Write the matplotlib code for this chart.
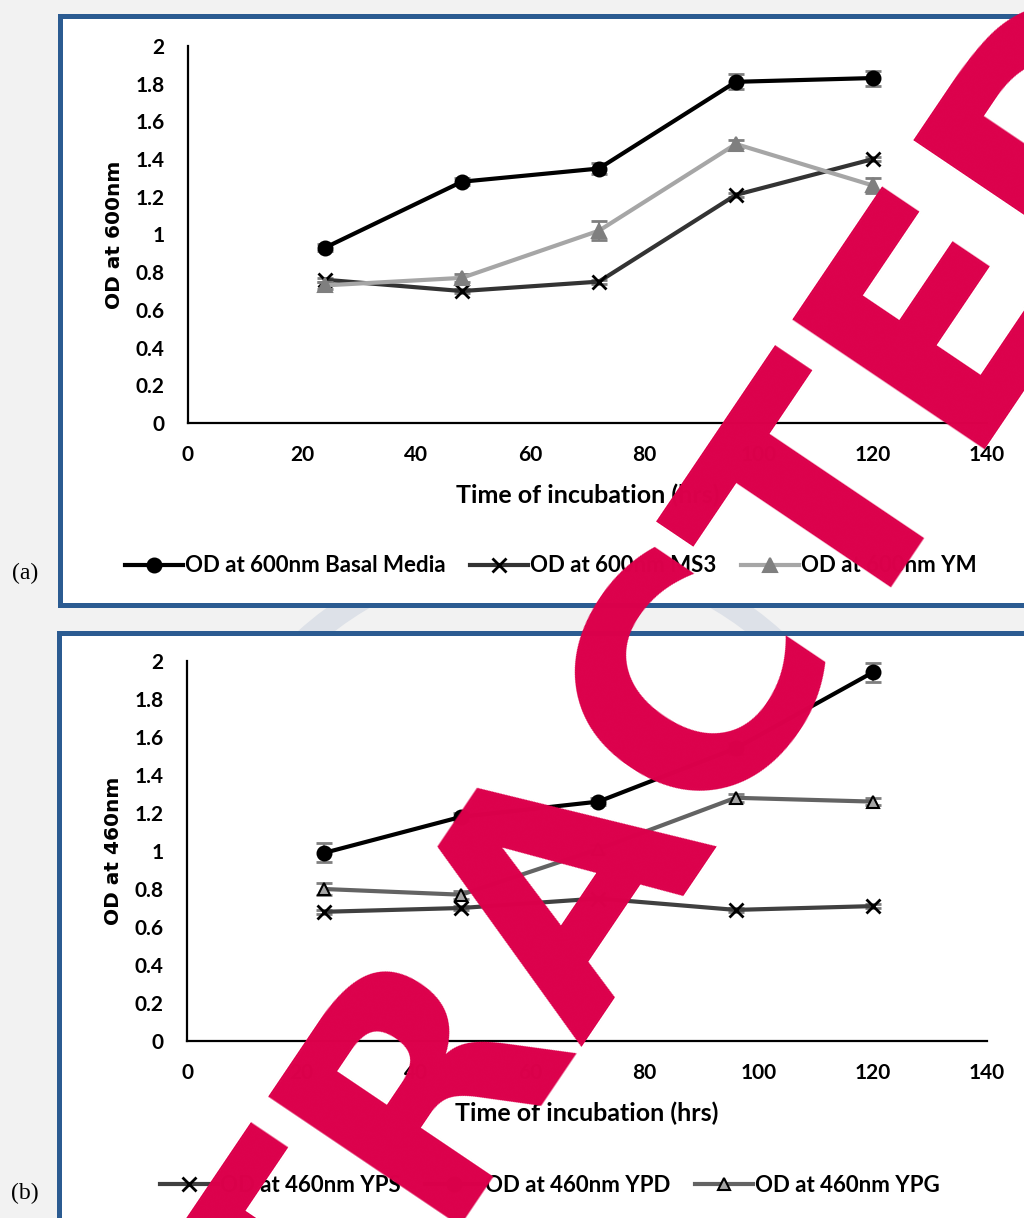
import matplotlib
matplotlib.use("Agg")
import matplotlib.pyplot as plt
from matplotlib.patches import Rectangle, Circle

# data
hours = [24, 48, 72, 96, 120]

basal_600 = [0.93, 1.28, 1.35, 1.81, 1.83]
basal_600_err = [0.02, 0.02, 0.03, 0.04, 0.04]
ms3_600 = [0.76, 0.70, 0.75, 1.21, 1.40]
ms3_600_err = [0.01, 0.01, 0.01, 0.01, 0.01]
ym_600 = [0.73, 0.77, 1.02, 1.48, 1.26]
ym_600_err = [0.02, 0.02, 0.05, 0.02, 0.04]

yps_460 = [0.68, 0.70, 0.75, 0.69, 0.71]
yps_460_err = [0.01, 0.01, 0.01, 0.01, 0.01]
ypd_460 = [0.99, 1.18, 1.26, 1.54, 1.94]
ypd_460_err = [0.05, 0.02, 0.02, 0.03, 0.05]
ypg_460 = [0.80, 0.77, 1.01, 1.28, 1.26]
ypg_460_err = [0.03, 0.02, 0.02, 0.02, 0.02]

xticks = [0, 20, 40, 60, 80, 100, 120, 140]
yticks = [0, 0.2, 0.4, 0.6, 0.8, 1, 1.2, 1.4, 1.6, 1.8, 2]
ytick_labels = ["0", "0.2", "0.4", "0.6", "0.8", "1", "1.2", "1.4", "1.6", "1.8", "2"]

W, H = 1024, 1218
BORDER = "#2b5b91"
TXT = ["Lato", "DejaVu Sans"]


def fx(px):
    return px / W


def fy(py):
    return 1 - py / H


fig = plt.figure(figsize=(W / 100, H / 100), dpi=100)
fig.patch.set_facecolor("#f2f2f2")

# background layer in pixel coordinates
bg = fig.add_axes([0, 0, 1, 1], zorder=0)
bg.set_xlim(0, W)
bg.set_ylim(H, 0)
bg.axis("off")
bg.add_patch(Circle((540, 900), 350, fill=False, lw=17, ec="#dde1e8"))
bg.add_patch(Rectangle((60, 15.5), 1000, 589, fc="white", ec=BORDER, lw=3.6))
bg.add_patch(Rectangle((58.5, 632.5), 1000, 620, fc="white", ec=BORDER, lw=3.6))
bg.text(25, 573, "(a)", ha="center", va="center", fontsize=17, family="Liberation Serif")
bg.text(25, 1193, "(b)", ha="center", va="center", fontsize=17, family="Liberation Serif")


def style_axes(ax, ylabel):
    ax.set_facecolor("none")
    ax.set_xlim(0, 140)
    ax.set_ylim(0, 2)
    ax.set_xticks(xticks)
    ax.set_yticks(yticks)
    ax.set_yticklabels(ytick_labels)
    for s in ["top", "right"]:
        ax.spines[s].set_visible(False)
    for s in ["left", "bottom"]:
        ax.spines[s].set_linewidth(1.6)
        ax.spines[s].set_color("black")
    ax.tick_params(length=0)
    ax.tick_params(axis="y", pad=17)
    ax.tick_params(axis="x", pad=16)
    for lab in ax.get_xticklabels() + ax.get_yticklabels():
        lab.set_fontfamily(TXT)
        lab.set_fontweight("bold")
        lab.set_fontsize(15)
    ax.set_xlabel("Time of incubation (hrs)", family=TXT, weight="bold", fontsize=18, labelpad=13)
    ax.set_ylabel(ylabel, family="DejaVu Sans", weight="bold", fontsize=14.5, labelpad=8)


def series(ax, y, err, label, lc, marker, mfc, mec, ms, mew=1.5):
    ax.errorbar(hours, y, yerr=err, fmt="none", ecolor="#7f7f7f", elinewidth=1.5,
                capsize=6, capthick=2)
    ax.plot(hours, y, color=lc, lw=3, marker=marker, ms=ms, mfc=mfc, mec=mec,
            mew=mew, label=label)


def add_legend(ax, cx, cy):
    ax.legend(loc="center", bbox_to_anchor=(fx(cx), fy(cy)), bbox_transform=fig.transFigure,
              ncol=3, frameon=False, handlelength=2.6, handletextpad=0.1, columnspacing=1.1,
              prop={"family": TXT, "weight": "bold", "size": 16})


ax1 = fig.add_axes([fx(188), fy(423), 799 / W, 377 / H], zorder=1)
series(ax1, basal_600, basal_600_err, "OD at 600nm Basal Media", "black", "o", "black", "black", 10)
series(ax1, ms3_600, ms3_600_err, "OD at 600nm MS3", "#333333", "x", "black", "black", 10, mew=2)
series(ax1, ym_600, ym_600_err, "OD at 600nm YM", "#a6a6a6", "^", "#7f7f7f", "#7f7f7f", 10)
style_axes(ax1, "OD at 600nm")
add_legend(ax1, 551, 566)

ax2 = fig.add_axes([fx(187), fy(1041), 800 / W, 380 / H], zorder=1)
series(ax2, yps_460, yps_460_err, "OD at 460nm YPS", "#404040", "x", "black", "black", 10, mew=2)
series(ax2, ypd_460, ypd_460_err, "OD at 460nm YPD", "black", "o", "black", "black", 10)
series(ax2, ypg_460, ypg_460_err, "OD at 460nm YPG", "#636363", "^", "#a6a6a6", "black", 9)
style_axes(ax2, "OD at 460nm")
add_legend(ax2, 550, 1185)

# retraction stamp on top (anchored on its baseline)
fig.text(fx(640), fy(918), "RETRACTED", rotation=56, rotation_mode="anchor",
         ha="center", va="baseline", fontsize=228, weight="bold",
         family="DejaVu Sans", color="#dc004b", zorder=20)

fig.savefig("out.png", dpi=100, facecolor=fig.get_facecolor())
